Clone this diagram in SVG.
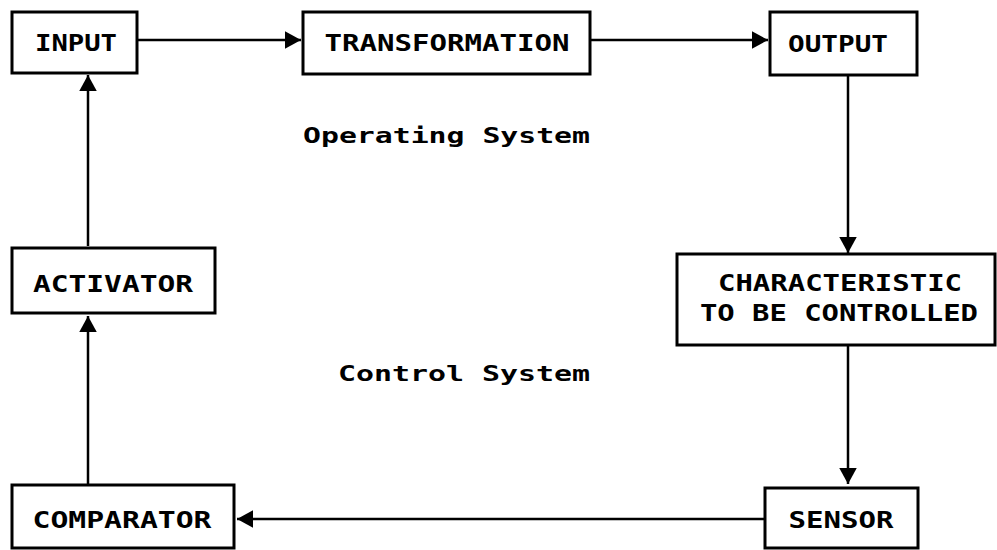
<svg xmlns="http://www.w3.org/2000/svg" width="997" height="550" viewBox="0 0 997 550">
<style>
.box{fill:#fff;stroke:#000;stroke-width:3}
.lbl{font-family:"DejaVu Sans Mono","Liberation Mono",monospace;font-weight:bold;font-size:23px;fill:#000}
.note{font-family:"DejaVu Sans Mono","Liberation Mono",monospace;font-weight:bold;font-size:22px;fill:#000}
.con{stroke:#000;stroke-width:2.5;fill:none;marker-end:url(#ah)}
</style>
<defs>
<marker id="ah" viewBox="0 0 10 10" refX="10" refY="5" markerWidth="6.4" markerHeight="7" markerUnits="strokeWidth" orient="auto" preserveAspectRatio="none">
<path d="M0,0 L10,5 L0,10 z" fill="#000"/>
</marker>
</defs>
<rect width="997" height="550" fill="#fff"/>
<g id="connectors">
<line class="con" x1="138" y1="40" x2="301" y2="40"/>
<line class="con" x1="591" y1="40" x2="768" y2="40"/>
<line class="con" x1="848" y1="76" x2="848" y2="253"/>
<line class="con" x1="848" y1="346" x2="848" y2="484"/>
<line class="con" x1="764" y1="519" x2="237" y2="519"/>
<line class="con" x1="88" y1="484" x2="88" y2="316"/>
<line class="con" x1="88" y1="246" x2="88" y2="75"/>
</g>
<g id="input">
<rect class="box" x="12" y="12" width="125" height="61"/>
<text class="lbl" x="76" y="51" text-anchor="middle" textLength="82" lengthAdjust="spacingAndGlyphs">INPUT</text>
</g>
<g id="transformation">
<rect class="box" x="303" y="12" width="287" height="62"/>
<text class="lbl" x="447" y="51" text-anchor="middle" textLength="245" lengthAdjust="spacingAndGlyphs">TRANSFORMATION</text>
</g>
<g id="output">
<rect class="box" x="770" y="12" width="147" height="63"/>
<text class="lbl" x="838" y="52" text-anchor="middle" textLength="100" lengthAdjust="spacingAndGlyphs">OUTPUT</text>
</g>
<g id="characteristic">
<rect class="box" x="677" y="254" width="318" height="91"/>
<text class="lbl" x="840" y="291" text-anchor="middle" textLength="244" lengthAdjust="spacingAndGlyphs">CHARACTERISTIC</text>
<text class="lbl" x="839" y="321" text-anchor="middle" textLength="278" lengthAdjust="spacingAndGlyphs">TO BE CONTROLLED</text>
</g>
<g id="sensor">
<rect class="box" x="765" y="488" width="153" height="60"/>
<text class="lbl" x="841" y="528" text-anchor="middle" textLength="105" lengthAdjust="spacingAndGlyphs">SENSOR</text>
</g>
<g id="comparator">
<rect class="box" x="12" y="485" width="222" height="63"/>
<text class="lbl" x="122" y="528" text-anchor="middle" textLength="179" lengthAdjust="spacingAndGlyphs">COMPARATOR</text>
</g>
<g id="activator">
<rect class="box" x="12" y="248" width="203" height="65"/>
<text class="lbl" x="113" y="292" text-anchor="middle" textLength="160" lengthAdjust="spacingAndGlyphs">ACTIVATOR</text>
</g>
<g id="labels">
<text class="note" x="303" y="143" textLength="287" lengthAdjust="spacingAndGlyphs">Operating System</text>
<text class="note" x="338" y="381" textLength="252" lengthAdjust="spacingAndGlyphs">Control System</text>
</g>
</svg>
